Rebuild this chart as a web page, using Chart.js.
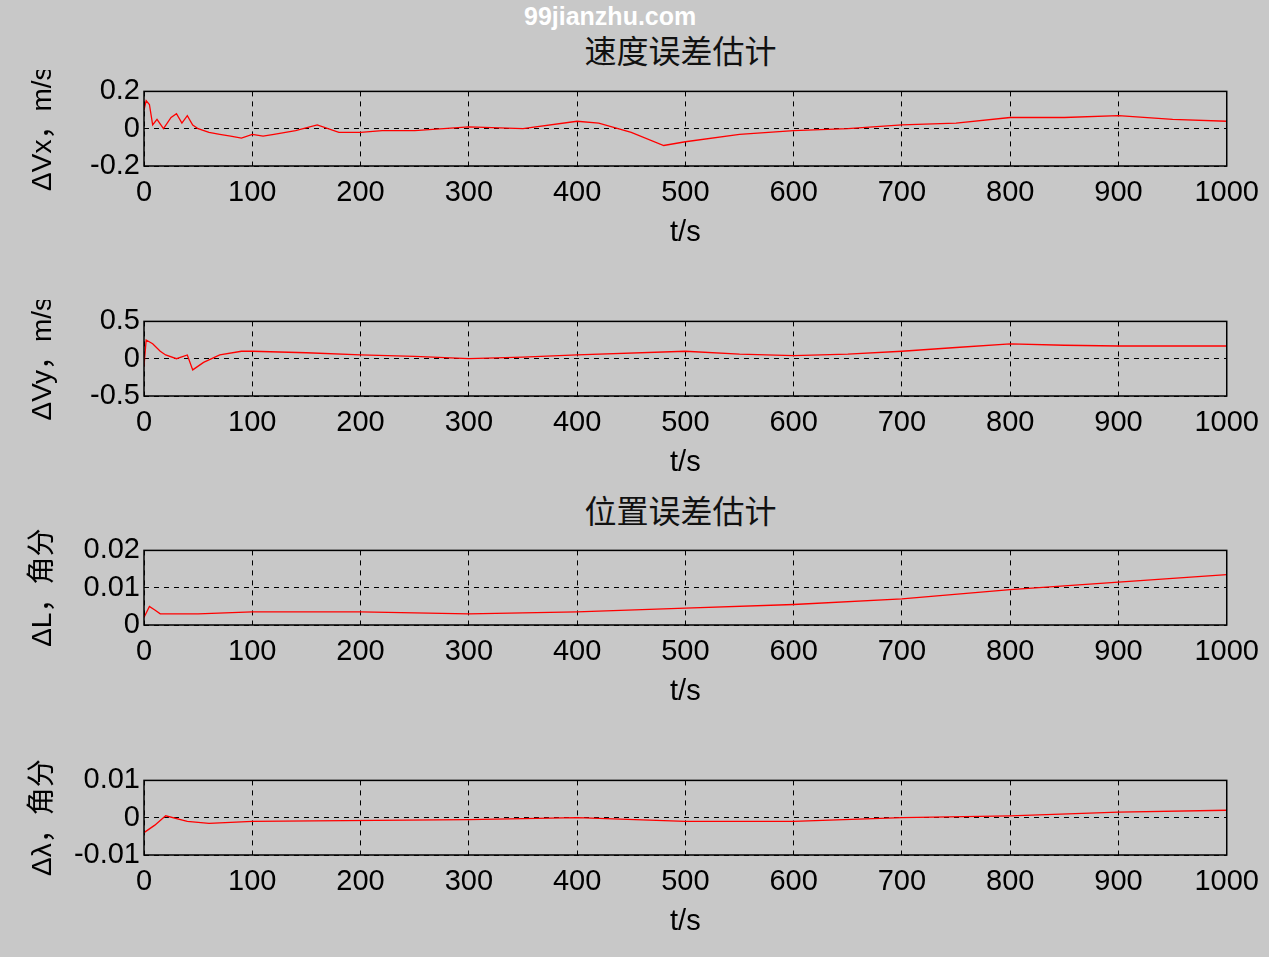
<!DOCTYPE html>
<html><head><meta charset="utf-8">
<script src="https://cdn.jsdelivr.net/npm/chart.js@4/dist/chart.umd.min.js"></script>
<style>
body{margin:0;background:#c8c8c8;width:1269px;height:957px;overflow:hidden;position:relative;font-family:"Liberation Sans",Arial,sans-serif}
canvas{position:absolute;left:0}
.t{position:absolute;width:1269px;text-align:center;left:0;font-family:"Noto Sans CJK SC";font-size:32px;color:#111}
.wm{position:absolute;left:524px;top:2px;color:#fff;font-weight:bold;font-size:25px}
</style></head><body>
<div class="wm">99jianzhu.com</div>
<div class="t" style="top:26px;left:46px">速度误差估计</div>
<div class="t" style="top:486px;left:46px">位置误差估计</div>
<canvas id="c0" width="1269" height="184"></canvas>
<canvas id="c1" width="1269" height="184"></canvas>
<canvas id="c2" width="1269" height="184"></canvas>
<canvas id="c3" width="1269" height="184"></canvas>
<script>
// 数据
var tVx = [0,2,5,8,12,18,25,30,35,40,45,50,60,70,80,90,100,110,120,140,160,180,200,220,250,300,350,400,420,450,480,500,550,600,650,700,750,800,850,900,950,1000];
var vVx = [0.1,0.15,0.13,0.02,0.05,0.0,0.06,0.08,0.03,0.07,0.02,0.0,-0.02,-0.03,-0.04,-0.05,-0.03,-0.04,-0.03,-0.01,0.02,-0.02,-0.02,-0.01,-0.01,0.01,0.0,0.04,0.03,-0.02,-0.09,-0.07,-0.03,-0.01,0.0,0.02,0.03,0.06,0.06,0.07,0.05,0.04];
var tVy = [0,2,8,15,20,30,40,45,55,70,90,100,150,200,250,300,350,400,500,550,600,650,700,750,800,850,900,1000];
var vVy = [-0.1,0.25,0.2,0.1,0.05,0.0,0.05,-0.15,-0.05,0.05,0.1,0.1,0.08,0.05,0.03,0.0,0.02,0.05,0.1,0.06,0.04,0.06,0.1,0.15,0.2,0.18,0.17,0.17];
var tL = [0,5,10,15,50,100,200,300,400,500,600,700,800,900,1000];
var vL = [0.002,0.005,0.004,0.003,0.003,0.0035,0.0035,0.003,0.0035,0.0045,0.0055,0.007,0.0095,0.0115,0.0135];
var tLam = [0,10,20,40,60,100,300,400,500,600,700,800,900,1000];
var vLam = [-0.004,-0.002,0.0005,-0.001,-0.0015,-0.001,-0.0005,0,-0.001,-0.001,0,0.0005,0.0015,0.002];
var xTicks = [0,100,200,300,400,500,600,700,800,900,1000];

var panels = [
  {id:'c0', top:90,  t:tVx, v:vVx, min:-0.2, max:0.2, label:'ΔVx，m/s'},
  {id:'c1', top:320, t:tVy, v:vVy, min:-0.5, max:0.5, label:'ΔVy，m/s'},
  {id:'c2', top:549, t:tL, v:vL, min:0, max:0.02, label:'ΔL，角分'},
  {id:'c3', top:779, t:tLam, v:vLam, min:-0.01, max:0.01, label:'Δλ，角分'}
];

var frame = {
  id:'frame',
  afterDraw: function(c) {
    var a = c.chartArea, ctx = c.ctx;
    ctx.save(); ctx.strokeStyle = '#000'; ctx.lineWidth = 1.5;
    ctx.strokeRect(a.left, a.top, a.right - a.left, a.bottom - a.top);
    ctx.restore();
  }
};
var tickFont = {family:'"Liberation Sans", Arial', size:29};

panels.forEach(function(p) {
  var el = document.getElementById(p.id);
  el.style.top = (p.top - 20) + 'px';
  new Chart(el.getContext('2d'), {
    type: 'scatter',
    data: {datasets: [{
      data: p.t.map(function(x, i){ return {x:x, y:p.v[i]}; }),
      showLine: true, borderColor: '#ff0000', borderWidth: 1.3, pointRadius: 0
    }]},
    plugins: [frame],
    options: {
      responsive: false, animation: false,
      layout: {padding: {top:20, right:41}},
      plugins: {legend:{display:false}, tooltip:{enabled:false}},
      scales: {
        x: {
          type:'linear', min:0, max:1000,
          afterBuildTicks: function(s){ s.ticks = xTicks.map(function(v){ return {value:v}; }); },
          afterFit: function(s){ s.height = 88; },
          grid: {color:'#000', lineWidth:1, tickLength:0},
          border: {display:false, dash:[5,5]},
          ticks: {color:'#000', font:tickFont, maxRotation:0, autoSkip:false, padding:10, callback: function(v){ return String(v); }},
          title: {display:true, text:'t/s', color:'#000', font:tickFont, padding:{top:0}}
        },
        y: {
          min:p.min, max:p.max,
          afterBuildTicks: function(s){ s.ticks = [{value:p.min},{value:(p.min+p.max)/2},{value:p.max}]; },
          afterFit: function(s){ s.width = 144; },
          grid: {color:'#000', lineWidth:1, tickLength:0},
          border: {display:false, dash:[5,5]},
          ticks: {color:'#000', font:tickFont, padding:4, autoSkip:false,
            callback: function(v){ return String(Number(v.toFixed(4))); }},
          title: {display:true, text:p.label, color:'#000', font:{family:'"Liberation Sans","Noto Sans CJK SC"', size:28}, padding:{top:26, bottom:0}}
        }
      }
    }
  });
});
</script>
</body></html>
